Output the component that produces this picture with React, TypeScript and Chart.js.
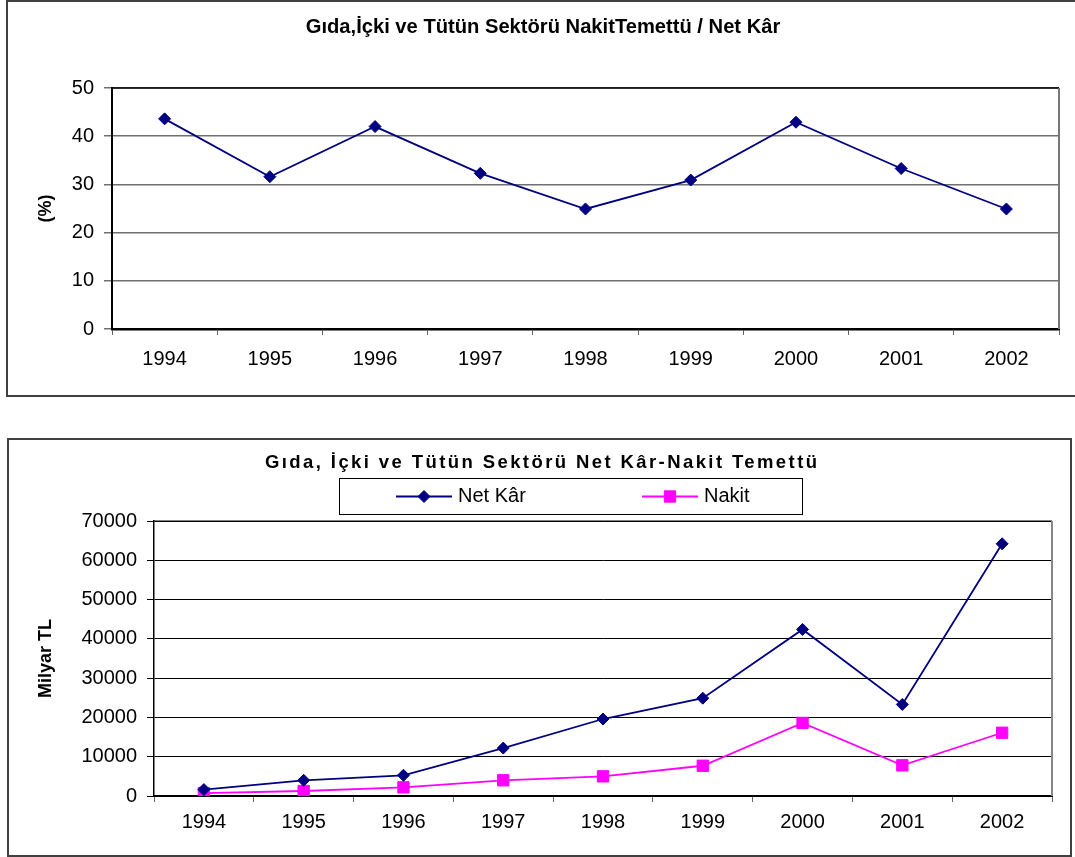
import React, { useEffect, useRef } from "react";
import { Chart, registerables } from "chart.js";
import { drawPoint } from "chart.js/helpers";

Chart.register(...registerables);

// ---- data ----
const years = ["1994", "1995", "1996", "1997", "1998", "1999", "2000", "2001", "2002"];
// cash dividend / net profit, %
const payoutRatio = [43.6, 31.6, 42.0, 32.3, 24.9, 30.9, 42.9, 33.3, 24.9];
// billion TL
const netProfit = [1630, 4000, 5270, 12200, 19600, 24900, 42400, 23300, 64200];
const cashDividend = [750, 1270, 2200, 4000, 5000, 7700, 18600, 7800, 16100];

const ratioTicks = { min: 0, max: 50, step: 10 };
const amountTicks = { min: 0, max: 70000, step: 10000 };

const ratioTitle = "Gıda,İçki ve Tütün Sektörü NakitTemettü / Net Kâr";
const amountTitle = "Gıda, İçki ve Tütün Sektörü Net Kâr-Nakit Temettü";
const ratioAxisLabel = "(%)";
const amountAxisLabel = "Milyar TL";
const seriesNames = ["Net Kâr", "Nakit"];

// ---- styles ----
const FONT = "'Liberation Sans', Arial, sans-serif";
const NAVY = "#000080";
const MAGENTA = "#FF00FF";

// Chart heading: either scaled to a width (fit) or letter-spaced to a width
const headingPlugin = {
  id: "heading",
  afterDraw(chart: any, _args: any, opts: any) {
    if (!opts || !opts.text) return;
    const ctx = chart.ctx;
    const text: string = opts.text;
    ctx.save();
    ctx.fillStyle = "#000";
    ctx.textBaseline = "middle";
    ctx.textAlign = "left";
    let size: number = opts.size;
    ctx.font = `bold ${size}px ${FONT}`;
    let natural = ctx.measureText(text).width;
    let spacing = 0;
    if (opts.mode === "fit") {
      size = (size * opts.width) / natural;
      ctx.font = `bold ${size}px ${FONT}`;
      natural = ctx.measureText(text).width;
    } else {
      spacing = (opts.width - natural) / Math.max(text.length - 1, 1);
    }
    (ctx as any).letterSpacing = spacing + "px";
    const total = natural + spacing * (text.length - 1);
    ctx.fillText(text, opts.x - total / 2, opts.y);
    (ctx as any).letterSpacing = "0px";
    ctx.restore();
  },
};

// Top and right edges of the plot area
const framePlugin = {
  id: "plotFrame",
  beforeDatasetsDraw(chart: any, _args: any, opts: any) {
    const { left, top, right, bottom } = chart.chartArea;
    const ctx = chart.ctx;
    ctx.save();
    ctx.strokeStyle = opts.topColor;
    ctx.lineWidth = opts.topWidth;
    ctx.beginPath();
    ctx.moveTo(left, top);
    ctx.lineTo(right, top);
    ctx.stroke();
    ctx.strokeStyle = opts.rightColor;
    ctx.lineWidth = opts.rightWidth;
    ctx.beginPath();
    ctx.moveTo(right, top);
    ctx.lineTo(right, bottom);
    ctx.stroke();
    ctx.restore();
  },
};

// Boxed legend with line + marker samples
const boxedLegendPlugin = {
  id: "boxedLegend",
  afterDraw(chart: any, _args: any, opts: any) {
    if (!opts || !opts.box) return;
    const ctx = chart.ctx;
    const [bx, by, bw, bh] = opts.box;
    ctx.save();
    ctx.strokeStyle = "#000";
    ctx.lineWidth = 1;
    ctx.strokeRect(bx + 0.5, by + 0.5, bw, bh);
    const cy = by + bh / 2 + 0.5;
    chart.data.datasets.forEach((ds: any, i: number) => {
      const x0 = opts.itemX[i];
      ctx.strokeStyle = ds.borderColor;
      ctx.lineWidth = ds.borderWidth;
      ctx.beginPath();
      ctx.moveTo(x0, cy);
      ctx.lineTo(x0 + opts.lineLength, cy);
      ctx.stroke();
      ctx.fillStyle = ds.pointBackgroundColor;
      ctx.strokeStyle = ds.pointBorderColor;
      ctx.lineWidth = 1;
      drawPoint(
        ctx,
        { pointStyle: ds.pointStyle, radius: ds.pointRadius, rotation: 0, borderWidth: 1 } as any,
        x0 + opts.lineLength / 2,
        cy
      );
      ctx.fillStyle = "#000";
      ctx.font = opts.font;
      ctx.textBaseline = "middle";
      ctx.textAlign = "left";
      ctx.fillText(ds.label, x0 + opts.lineLength + 6, cy);
    });
    ctx.restore();
  },
};

const tickFont = { family: FONT, size: 20 };
const axisTitleFont = { family: FONT, size: 18, weight: "bold" as const };

function ratioConfig(): any {
  return {
    type: "line",
    data: {
      labels: years,
      datasets: [
        {
          label: "NakitTemettü / Net Kâr",
          data: payoutRatio,
          borderColor: NAVY,
          backgroundColor: NAVY,
          borderWidth: 1.8,
          pointStyle: "rectRot",
          pointRadius: 6,
          pointBackgroundColor: NAVY,
          pointBorderColor: NAVY,
          pointBorderWidth: 1,
          tension: 0,
        },
      ],
    },
    options: {
      responsive: false,
      animation: false,
      devicePixelRatio: 1,
      layout: { padding: { left: 0, top: 88, right: 16, bottom: 0 } },
      plugins: {
        legend: { display: false },
        tooltip: { enabled: false },
        heading: { text: ratioTitle, size: 16, mode: "fit", x: 543, y: 27, width: 475 },
        plotFrame: { topColor: "#000", topWidth: 1.5, rightColor: "#777", rightWidth: 2 },
      },
      scales: {
        x: {
          type: "category",
          offset: true,
          grid: { offset: true, drawOnChartArea: false, drawTicks: true, tickLength: 6, color: "#666", lineWidth: 1 },
          border: { display: true, color: "#000", width: 2.5 },
          ticks: { color: "#000", font: tickFont, padding: 12, maxRotation: 0, autoSkip: false },
          afterFit: (s: any) => {
            s.height = 71;
          },
        },
        y: {
          min: ratioTicks.min,
          max: ratioTicks.max,
          ticks: { stepSize: ratioTicks.step, color: "#000", font: tickFont, padding: 10 },
          grid: { color: "#707070", lineWidth: 1.5, tickLength: 8 },
          border: { display: true, color: "#000", width: 2 },
          title: { display: true, text: ratioAxisLabel, color: "#000", font: axisTitleFont, padding: { top: 35, bottom: 0 } },
          afterFit: (s: any) => {
            s.width = 112;
          },
        },
      },
    },
    plugins: [headingPlugin, framePlugin],
  };
}

function amountConfig(): any {
  return {
    type: "line",
    data: {
      labels: years,
      datasets: [
        {
          label: seriesNames[0],
          data: netProfit,
          borderColor: NAVY,
          backgroundColor: NAVY,
          borderWidth: 1.8,
          pointStyle: "rectRot",
          pointRadius: 6,
          pointBackgroundColor: NAVY,
          pointBorderColor: NAVY,
          pointBorderWidth: 1,
          tension: 0,
        },
        {
          label: seriesNames[1],
          data: cashDividend,
          borderColor: MAGENTA,
          backgroundColor: MAGENTA,
          borderWidth: 1.8,
          pointStyle: "rect",
          pointRadius: 8,
          pointBackgroundColor: MAGENTA,
          pointBorderColor: MAGENTA,
          pointBorderWidth: 1,
          tension: 0,
        },
      ],
    },
    options: {
      responsive: false,
      animation: false,
      devicePixelRatio: 1,
      layout: { padding: { left: 0, top: 84, right: 23, bottom: 0 } },
      plugins: {
        legend: { display: false },
        tooltip: { enabled: false },
        heading: { text: amountTitle, size: 18.5, mode: "spaced", x: 541, y: 26, width: 552 },
        plotFrame: { topColor: "#000", topWidth: 1, rightColor: "#888", rightWidth: 2 },
        boxedLegend: { box: [339, 41, 463, 36], itemX: [396, 642], lineLength: 56, font: `20px ${FONT}` },
      },
      scales: {
        x: {
          type: "category",
          offset: true,
          grid: { offset: true, drawOnChartArea: false, drawTicks: true, tickLength: 6, color: "#666", lineWidth: 1 },
          border: { display: true, color: "#000", width: 2 },
          ticks: { color: "#000", font: tickFont, padding: 8, maxRotation: 0, autoSkip: false },
          afterFit: (s: any) => {
            s.height = 61;
          },
        },
        y: {
          min: amountTicks.min,
          max: amountTicks.max,
          ticks: {
            stepSize: amountTicks.step,
            color: "#000",
            font: tickFont,
            padding: 10,
            callback: (v: any) => String(v),
          },
          grid: { color: "#000", lineWidth: 1, tickLength: 7 },
          border: { display: true, color: "#000", width: 1.5 },
          title: { display: true, text: amountAxisLabel, color: "#000", font: axisTitleFont, padding: { top: 35, bottom: 0 } },
          afterFit: (s: any) => {
            s.width = 154;
          },
        },
      },
    },
    plugins: [headingPlugin, framePlugin, boxedLegendPlugin],
  };
}

function ChartCanvas(props: { make: () => any; left: number; top: number; width: number; height: number }) {
  const ref = useRef<HTMLCanvasElement | null>(null);
  useEffect(() => {
    if (!ref.current) return;
    const chart = new Chart(ref.current, props.make());
    return () => chart.destroy();
  }, []);
  return (
    <canvas
      ref={ref}
      width={props.width}
      height={props.height}
      style={{ position: "absolute", left: props.left, top: props.top, width: props.width, height: props.height }}
    />
  );
}

export default function App() {
  return (
    <div
      style={{
        position: "fixed",
        left: 0,
        top: 0,
        width: 1075,
        height: 857,
        overflow: "hidden",
        background: "#fff",
      }}
    >
      <div
        style={{
          position: "absolute",
          left: 6,
          top: 0,
          width: 1100,
          height: 397,
          boxSizing: "border-box",
          border: "2px solid #404040",
        }}
      />
      <div
        style={{
          position: "absolute",
          left: 7,
          top: 438,
          width: 1065,
          height: 419,
          boxSizing: "border-box",
          border: "2px solid #404040",
        }}
      />
      <ChartCanvas make={ratioConfig} left={0} top={0} width={1075} height={400} />
      <ChartCanvas make={amountConfig} left={0} top={437} width={1075} height={420} />
    </div>
  );
}
